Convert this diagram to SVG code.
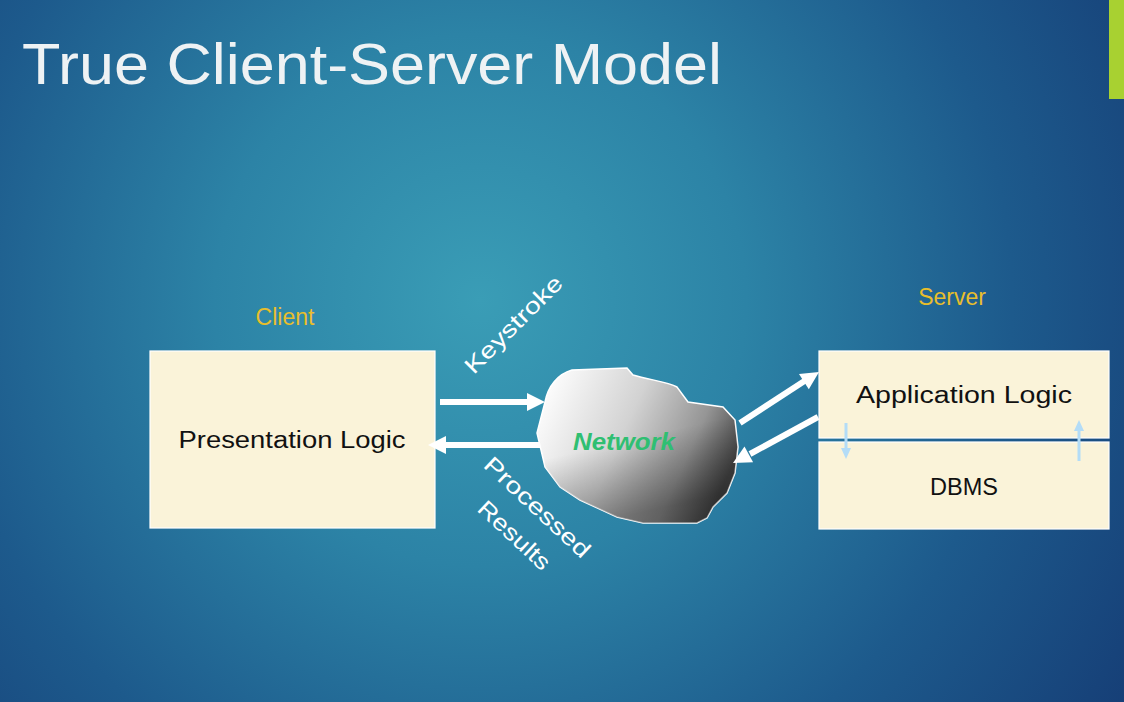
<svg xmlns="http://www.w3.org/2000/svg" width="1124" height="702" viewBox="0 0 1124 702">
<defs>
<radialGradient id="bg" cx="480" cy="300" r="760" gradientUnits="userSpaceOnUse">
<stop offset="0" stop-color="#3a9db6"/>
<stop offset="0.35" stop-color="#2c83a6"/>
<stop offset="0.7" stop-color="#1d5a8c"/>
<stop offset="1" stop-color="#163f77"/>
</radialGradient>
<linearGradient id="cloudG" x1="0" y1="0.2" x2="1" y2="0.55">
<stop offset="0" stop-color="#ffffff"/>
<stop offset="0.45" stop-color="#d2d2d2"/>
<stop offset="0.78" stop-color="#959595"/>
<stop offset="1" stop-color="#4a4a4a"/>
</linearGradient>
<linearGradient id="cloudShade" x1="0" y1="0" x2="0.3" y2="1">
<stop offset="0.55" stop-color="#000" stop-opacity="0"/>
<stop offset="1" stop-color="#000" stop-opacity="0.35"/>
</linearGradient>
<style>
.box{fill:#faf3d9;stroke:#ffffff;stroke-width:1.2}
.lbl{font-family:"Liberation Sans",Arial,sans-serif;font-size:23px;fill:#111}
.hdr{font-family:"Liberation Sans",Arial,sans-serif;font-size:23px;fill:#e8be2c}
.wt{font-family:"Liberation Sans",Arial,sans-serif;font-size:23px;fill:#ffffff}
.arr{stroke:#ffffff;stroke-width:6;fill:none}
.ah{fill:#ffffff}
.sm{stroke:#b3dcf7;stroke-width:3}
.smh{fill:#b3dcf7}
</style>
</defs>
<rect width="1124" height="702" fill="url(#bg)"/>
<rect x="1109" y="0" width="15" height="99" fill="#a8d131"/>
<text x="22" y="84" font-family="Liberation Sans, Arial, sans-serif" font-size="57" fill="#eef2f4" textLength="700" lengthAdjust="spacingAndGlyphs">True Client-Server Model</text>

<g id="client">
<text class="hdr" x="285" y="325" text-anchor="middle">Client</text>
<rect class="box" x="150" y="351" width="285" height="177"/>
<text class="lbl" x="292" y="448" text-anchor="middle" textLength="227" lengthAdjust="spacingAndGlyphs">Presentation Logic</text>
</g>

<g id="network">
<path d="M545,402 C548,386 558,374 572,370 L627,368 L633,375 C650,380 668,382 677,387 L688,402 L723,407 L735,420 L738,447 L735,473 L727,493 L713,507 L707,518 L697,523 L643,523 L617,517 L580,500 L560,487 L545,467 L537,433 Z" fill="url(#cloudG)" stroke="#ffffff" stroke-width="1.5"/>
<path d="M545,402 C548,386 558,374 572,370 L627,368 L633,375 C650,380 668,382 677,387 L688,402 L723,407 L735,420 L738,447 L735,473 L727,493 L713,507 L707,518 L697,523 L643,523 L617,517 L580,500 L560,487 L545,467 L537,433 Z" fill="url(#cloudShade)"/>
<text x="624" y="450" text-anchor="middle" font-family="Liberation Sans, Arial, sans-serif" font-size="23" font-weight="bold" font-style="italic" fill="#2fbf72" textLength="102" lengthAdjust="spacingAndGlyphs">Network</text>
</g>

<g id="server">
<text class="hdr" x="952" y="305" text-anchor="middle">Server</text>
<rect class="box" x="819" y="351" width="290" height="87"/>
<text class="lbl" x="964" y="403" text-anchor="middle" textLength="216" lengthAdjust="spacingAndGlyphs">Application Logic</text>
</g>

<g id="dbms">
<rect class="box" x="819" y="442" width="290" height="87"/>
<text class="lbl" x="964" y="495" text-anchor="middle" textLength="68" lengthAdjust="spacingAndGlyphs">DBMS</text>
</g>

<g id="connectors">
<line class="arr" x1="440" y1="402" x2="529" y2="402"/>
<polygon class="ah" points="527,393 545,402 527,411"/>
<line class="arr" x1="540" y1="445" x2="444" y2="445"/>
<polygon class="ah" points="446,436 428,445 446,454"/>
<line class="arr" x1="740" y1="423" x2="806" y2="380"/>
<polygon class="ah" points="819,372 808.8,389.3 799,374.1"/>
<line class="arr" x1="818" y1="417" x2="750" y2="454"/>
<polygon class="ah" points="733,463 753.1,462.3 744.5,446.5"/>
<line class="sm" x1="846" y1="423" x2="846" y2="450"/>
<polygon class="smh" points="841,448 846,459 851,448"/>
<line class="sm" x1="1079" y1="461" x2="1079" y2="429"/>
<polygon class="smh" points="1074,431 1079,420 1084,431"/>
<text class="wt" transform="translate(519,330) rotate(-45)" text-anchor="middle" textLength="128" lengthAdjust="spacingAndGlyphs">Keystroke</text>
<text class="wt" transform="translate(532,513) rotate(43)" text-anchor="middle" textLength="136" lengthAdjust="spacingAndGlyphs">Processed</text>
<text class="wt" transform="translate(509,541) rotate(43)" text-anchor="middle" textLength="90" lengthAdjust="spacingAndGlyphs">Results</text>
</g>
</svg>
